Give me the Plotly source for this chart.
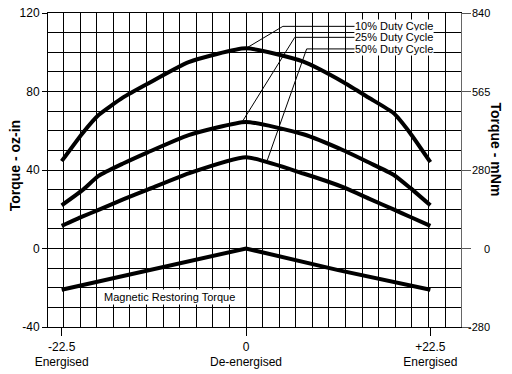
import plotly.graph_objects as go

# ---- data ----
angle = [-22.5, -20, -18, -15, -12, -7, 0, 7, 12, 15, 18, 20, 22.5]
duty10 = [44.5, 58.5, 68, 77, 84, 95, 102, 95.2, 84.5, 76.8, 69, 59, 44]
duty25 = [22, 29.6, 37, 43.3, 49, 57.8, 64.5, 58.2, 49.8, 43.8, 37.6, 31, 22]
duty50 = [11.5, 16.2, 19.7, 25, 30, 38.3, 46.5, 38.2, 31, 25.4, 19.9, 16.2, 11.5]
mag_angle = [-22.5, -11.25, 0, 11.25, 22.5]
magnetic = [-21, -10.5, 0, -11, -21]

x_tickvals = [-22.5, 0, 22.5]
x_ticktext = ["-22.5", "0", "+22.5"]
x_ticktext2 = ["Energised", "De-energised", "Energised"]
y_tickvals = [-40, 0, 40, 80, 120]
y_ticktext = ["-40", "0", "40", "80", "120"]
y2_ticktext = ["-280", "0", "280", "565", "840"]

duty_labels = ["10% Duty Cycle", "25% Duty Cycle", "50% Duty Cycle"]
# leader lines: (label y, elbow x, target x, target y)
leaders = [
    (113.2, 4.5, 0.0, 102.0),
    (107.6, 5.95, -0.5, 64.3),
    (101.7, 7.4, 2.6, 45.0),
]
label_x = 13.2

XR = [-24.17, 26.24]
YR = [-40, 120]
FONT = "Liberation Sans, Arial, Helvetica, sans-serif"

fig = go.Figure()

for ys in (duty10, duty25, duty50):
    fig.add_trace(go.Scatter(x=angle, y=ys, mode="lines",
                             line=dict(color="black", width=4, shape="spline", smoothing=0.5),
                             showlegend=False, hoverinfo="skip"))
fig.add_trace(go.Scatter(x=mag_angle, y=magnetic, mode="lines",
                         line=dict(color="black", width=4),
                         showlegend=False, hoverinfo="skip"))

for (ly, ex, tx, ty) in leaders:
    fig.add_trace(go.Scatter(x=[label_x + 0.8, ex, tx], y=[ly, ly, ty], mode="lines",
                             line=dict(color="black", width=1),
                             showlegend=False, hoverinfo="skip"))

# invisible traces to carry secondary axes
fig.add_trace(go.Scatter(x=[None], y=[None], xaxis="x2", yaxis="y2",
                         showlegend=False, hoverinfo="skip"))
fig.add_trace(go.Scatter(x=[None], y=[None], xaxis="x3", yaxis="y",
                         showlegend=False, hoverinfo="skip"))

for (ly, ex, tx, ty), txt in zip(leaders, duty_labels):
    fig.add_annotation(x=label_x, y=ly, xref="x", yref="y", text=txt,
                       showarrow=False, xanchor="left", yanchor="middle",
                       bgcolor="white", borderpad=0,
                       font=dict(family=FONT, size=11, color="black"))

fig.add_annotation(x=-9.38, y=-24.7, xref="x", yref="y",
                   text="Magnetic Restoring Torque", showarrow=False,
                   bgcolor="white", borderpad=1,
                   font=dict(family=FONT, size=11, color="black"))

for v, t in zip(y_tickvals, y2_ticktext):
    fig.add_annotation(x=1.076, y=v, xref="paper", yref="y", text=t,
                       showarrow=False, xanchor="right", yanchor="middle",
                       font=dict(family=FONT, size=11, color="black"))

fig.add_annotation(x=-0.079, y=0.516, xref="paper", yref="paper",
                   text="<b>Torque - oz-in</b>", textangle=-90, showarrow=False,
                   xanchor="center", yanchor="middle",
                   font=dict(family=FONT, size=14, color="black"))
fig.add_annotation(x=1.085, y=0.565, xref="paper", yref="paper",
                   text="<b>Torque - mNm</b>", textangle=90, showarrow=False,
                   xanchor="center", yanchor="middle",
                   font=dict(family=FONT, size=14, color="black"))

fig.update_layout(
    width=512, height=374,
    margin=dict(l=48, r=51, t=13, b=47, autoexpand=False),
    paper_bgcolor="white", plot_bgcolor="white",
    font=dict(family=FONT, size=12, color="black"),
    hovermode=False,
    xaxis=dict(range=XR, showgrid=True, gridcolor="black", gridwidth=1,
               tick0=0, dtick=2.025, ticks="", showticklabels=False,
               showline=True, linecolor="black", linewidth=1, mirror=True,
               zeroline=False, automargin=False),
    xaxis2=dict(range=XR, overlaying="x", anchor="y", side="bottom",
                tickmode="array", tickvals=x_tickvals, ticktext=x_ticktext,
                ticks="outside", ticklen=8, tickcolor="black", ticklabelstandoff=1,
                showgrid=False, showline=False, zeroline=False, automargin=False,
                tickfont=dict(family=FONT, size=12, color="black")),
    xaxis3=dict(range=XR, overlaying="x", anchor="y", side="bottom",
                tickmode="array", tickvals=x_tickvals, ticktext=x_ticktext2,
                ticks="", ticklabelstandoff=26,
                showgrid=False, showline=False, zeroline=False, automargin=False,
                tickfont=dict(family=FONT, size=12, color="black")),
    yaxis=dict(range=YR, tickmode="array", tickvals=y_tickvals, ticktext=y_ticktext,
               ticks="outside", ticklen=5, tickcolor="black",
               showgrid=True, gridcolor="black", gridwidth=1,
               minor=dict(dtick=10, tick0=0, showgrid=True, gridcolor="black", gridwidth=1),
               showline=True, linecolor="black", linewidth=1, automargin=False,
               zeroline=False, tickfont=dict(family=FONT, size=12, color="black")),
    yaxis2=dict(range=YR, overlaying="y", anchor="x", side="right",
                tickmode="array", tickvals=y_tickvals,
                ticks="outside", ticklen=9, tickcolor="#555", automargin=False,
                showticklabels=False, showgrid=False,
                showline=True, linecolor="#666", linewidth=1, zeroline=False),
)

fig.write_html("out.html", config={"displayModeBar": False},
               post_script="document.body.style.margin='0px';")
